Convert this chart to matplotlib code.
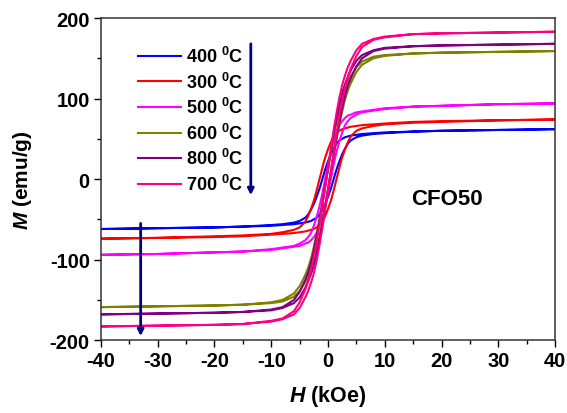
import numpy as np
import matplotlib
matplotlib.use('Agg')
import matplotlib.pyplot as plt
from matplotlib.ticker import MultipleLocator

plt.rcParams['font.family'] = 'Liberation Sans'
plt.rcParams['font.weight'] = 'bold'
plt.rcParams['axes.unicode_minus'] = False
plt.rcParams['mathtext.fontset'] = 'custom'
plt.rcParams['mathtext.rm'] = 'Liberation Sans:bold'
plt.rcParams['mathtext.it'] = 'Liberation Sans:bold:italic'
plt.rcParams['mathtext.bf'] = 'Liberation Sans:bold'

# applied field (kOe), shared by every branch
field = [-40, -30, -20, -15, -10, -8, -6, -5, -4, -3.5, -3, -2.5, -2, -1.5, -1, -0.5,
         0, 0.5, 1, 1.5, 2, 2.5, 3, 3.5, 4, 5, 6, 8, 10, 15, 20, 30, 40]

# magnetisation (emu/g): rising branch and falling branch for each anneal temperature
m400_up = [-62, -61, -60, -59, -58, -57, -56, -55, -54, -53, -52, -50, -48, -44, -38, -31,
           -22, -12, 0, 12, 22, 31, 38, 44, 48, 52, 54, 56, 57, 59, 60, 61, 62]
m400_dn = [-62, -61, -60, -59, -57, -56, -54, -52, -48, -44, -38, -31, -22, -12, 0, 12,
           22, 31, 38, 44, 48, 50, 52, 53, 54, 55, 56, 57, 58, 59, 60, 61, 62]

m300_up = [-74, -73, -72, -71, -69, -68, -67, -66, -65, -64, -63, -62, -60, -57, -53, -46,
           -37, -27, -14, 0, 14, 27, 37, 46, 53, 60, 63, 66, 68, 70, 71, 73, 74]
m300_dn = [-74, -73, -71, -70, -68, -66, -63, -60, -53, -46, -37, -27, -14, 0, 14, 27,
           37, 46, 53, 57, 60, 62, 63, 64, 65, 66, 67, 68, 69, 71, 72, 73, 74]

m500_up = [-94, -93, -91, -90, -88, -86, -84, -83, -80, -79, -76, -72, -67, -58, -47, -34,
           -18, 0, 18, 34, 47, 58, 67, 72, 76, 80, 83, 85, 87, 90, 91, 93, 94]
m500_dn = [-94, -93, -91, -90, -87, -85, -83, -80, -76, -72, -67, -58, -47, -34, -18, 0,
           18, 34, 47, 58, 67, 72, 76, 79, 80, 83, 84, 86, 88, 90, 91, 93, 94]

m600_up = [-159, -158, -157, -156, -154, -152, -146, -139, -128, -121, -112, -101, -87, -71, -53, -33,
           -12, 8, 29, 49, 67, 84, 99, 110, 119, 133, 142, 150, 153, 156, 157, 158, 159]
m600_dn = [-159, -158, -157, -156, -153, -150, -142, -133, -119, -110, -99, -84, -67, -49, -29, -8,
           12, 33, 53, 71, 87, 101, 112, 121, 128, 139, 146, 152, 154, 156, 157, 158, 159]

m800_up = [-168, -167, -166, -165, -163, -160, -154, -147, -135, -127, -118, -107, -92, -75, -56, -35,
           -13, 9, 31, 52, 71, 89, 104, 116, 125, 140, 150, 159, 162, 165, 166, 167, 168]
m800_dn = [-168, -167, -166, -165, -162, -159, -150, -140, -125, -116, -104, -89, -71, -52, -31, -9,
           13, 35, 56, 75, 92, 107, 118, 127, 135, 147, 154, 160, 163, 165, 166, 167, 168]

m700_up = [-183, -182, -181, -180, -177, -174, -168, -160, -147, -139, -129, -117, -101, -82, -61, -38,
           -14, 10, 33, 56, 78, 97, 114, 127, 137, 153, 164, 173, 176, 180, 181, 182, 183]
m700_dn = [-183, -182, -181, -180, -176, -173, -164, -153, -137, -127, -114, -97, -78, -56, -33, -10,
           14, 38, 61, 82, 101, 117, 129, 139, 147, 160, 168, 174, 177, 180, 181, 182, 183]

labels = ['400 $^0$C', '300 $^0$C', '500 $^0$C', '600 $^0$C', '800 $^0$C', '700 $^0$C']
colors = ['#0000FF', '#FF0000', '#FF00FF', '#808000', '#800080', '#FF0080']
loops = [(m400_up, m400_dn), (m300_up, m300_dn), (m500_up, m500_dn),
         (m600_up, m600_dn), (m800_up, m800_dn), (m700_up, m700_dn)]

fig = plt.figure(figsize=(5.67, 4.14), dpi=100)
ax = fig.add_axes([0.178, 0.176, 0.801, 0.778])

h = np.array(field)
for (up, dn), c, lab in zip(loops, colors, labels):
    # falling branch from +40 down to -40, then rising branch back up
    x = np.concatenate([h[::-1], h])
    y = np.concatenate([np.array(dn)[::-1], np.array(up)])
    ax.plot(x, y, color=c, lw=1.5, label=lab)

ax.set_xlim(-40, 40)
ax.set_ylim(-200, 200)
ax.xaxis.set_major_locator(MultipleLocator(10))
ax.xaxis.set_minor_locator(MultipleLocator(5))
ax.yaxis.set_major_locator(MultipleLocator(100))
ax.yaxis.set_minor_locator(MultipleLocator(50))
ax.tick_params(which='major', direction='out', length=5, width=1, labelsize=14.5, pad=3)
ax.tick_params(which='minor', direction='out', length=3, width=1)
for s in ax.spines.values():
    s.set_linewidth(1.1)
    s.set_color('#333333')

ax.set_xlabel('$H$ (kOe)', fontsize=15.5, fontweight='bold', labelpad=9)
ax.set_ylabel('$M$ (emu/g)', fontsize=15, fontweight='bold', labelpad=11)

leg = ax.legend(loc='upper left', bbox_to_anchor=(0.065, 0.935), frameon=False,
                fontsize=13, handlelength=2.4, handletextpad=0.25, labelspacing=0.3,
                borderaxespad=0)

# arrows marking the ordering of the saturation magnetisation
arrow = dict(arrowstyle='-|>', color='#000080', lw=2, mutation_scale=9, shrinkA=0, shrinkB=0)
ax.annotate('', xy=(-13.6, -20), xytext=(-13.6, 168), arrowprops=arrow)
ax.annotate('', xy=(-33.0, -195), xytext=(-33.0, -55), arrowprops=arrow)

ax.text(21.0, -24, 'CFO50', fontsize=16, fontweight='bold', ha='center', va='center')

fig.savefig('out.png', dpi=100)
